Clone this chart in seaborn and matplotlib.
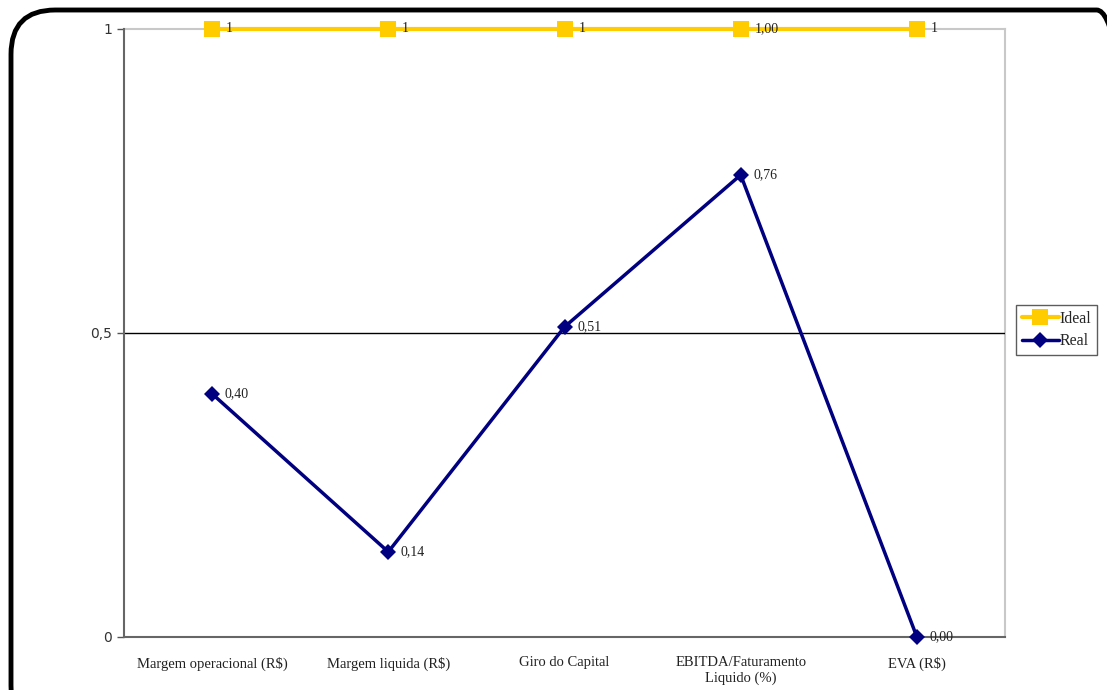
import numpy as np
import pandas as pd
import matplotlib
matplotlib.use("Agg")
import matplotlib.pyplot as plt
import seaborn as sns
from matplotlib.patches import FancyBboxPatch

# Data
categories = ["Margem operacional (R$)", "Margem liquida (R$)", "Giro do Capital",
              "EBITDA/Faturamento\nLiquido (%)", "EVA (R$)"]
ideal = [1, 1, 1, 1, 1]
ideal_labels = ["1", "1", "1", "1,00", "1"]
real = [0.40, 0.14, 0.51, 0.76, 0.00]
real_labels = ["0,40", "0,14", "0,51", "0,76", "0,00"]

df = pd.DataFrame({"pos": np.arange(len(categories)), "Ideal": ideal, "Real": real})

sns.set_style("white")
serif = ["Liberation Serif", "DejaVu Serif"]

fig = plt.figure(figsize=(11.07, 6.9), dpi=100)
ax = fig.add_axes([124 / 1107, 53 / 690, 881 / 1107, 608 / 690])

sns.lineplot(data=df, x="pos", y="Ideal", ax=ax, color="#FFCC00", lw=3,
             marker="s", markersize=12, markeredgewidth=0, label="Ideal", zorder=3)
sns.lineplot(data=df, x="pos", y="Real", ax=ax, color="#000080", lw=2.5,
             marker="D", markersize=8, markeredgewidth=0, label="Real", zorder=4)
for line in ax.lines:
    line.set_clip_on(False)

for x, y, t in zip(df["pos"], ideal, ideal_labels):
    ax.annotate(t, (x, y), xytext=(10, 0), textcoords="offset points", va="center",
                ha="left", fontsize=10, family=serif, color="#222222", zorder=5)
for x, y, t in zip(df["pos"], real, real_labels):
    ax.annotate(t, (x, y), xytext=(9, 0), textcoords="offset points", va="center",
                ha="left", fontsize=10, family=serif, color="#222222", zorder=5)

ax.axhline(0.5, color="black", lw=1, zorder=1)

ax.set_xlim(-0.5, len(categories) - 0.5)
ax.set_ylim(0, 1)
ax.set_yticks([0, 0.5, 1])
ax.set_yticklabels(["0", "0,5", "1"], fontsize=10, color="#333333")
ax.set_xticks(df["pos"])
ax.set_xticklabels(categories, family=serif, fontsize=10.5, color="#222222")
ax.set_xticks(np.arange(len(categories) + 1) - 0.5, minor=True)
ax.tick_params(axis="x", which="major", length=0, pad=14)
ax.tick_params(axis="x", which="minor", length=4, width=1, direction="out", color="#555555")
ax.tick_params(axis="y", length=5, width=1, direction="out", color="#555555", left=True)
ax.set_xlabel("")
ax.set_ylabel("")

for side in ["left", "bottom"]:
    ax.spines[side].set_color("#666666")
    ax.spines[side].set_linewidth(1.5)
for side in ["top", "right"]:
    ax.spines[side].set_color("#c8c8c8")
    ax.spines[side].set_linewidth(1.5)
    ax.spines[side].set_zorder(0.5)

leg = ax.legend(loc="center left", bbox_to_anchor=(1.013, 0.505), frameon=True, fancybox=False,
                prop={"family": serif, "size": 11.5}, handlelength=2.3, handletextpad=0.05,
                borderpad=0.35, labelspacing=0.4, borderaxespad=0)
leg.get_frame().set_edgecolor("#333333")
leg.get_frame().set_linewidth(1)

# Rounded outer frame (cropped at the right and bottom)
frame = FancyBboxPatch((11 / 1107, -40 / 690), 1130 / 1107, 720 / 690,
                       boxstyle="round,pad=0,rounding_size=0.04", transform=fig.transFigure,
                       fill=False, edgecolor="black", lw=3.5, clip_on=False,
                       mutation_aspect=1107 / 690)
fig.patches.append(frame)

fig.savefig("out.png", dpi=100)
